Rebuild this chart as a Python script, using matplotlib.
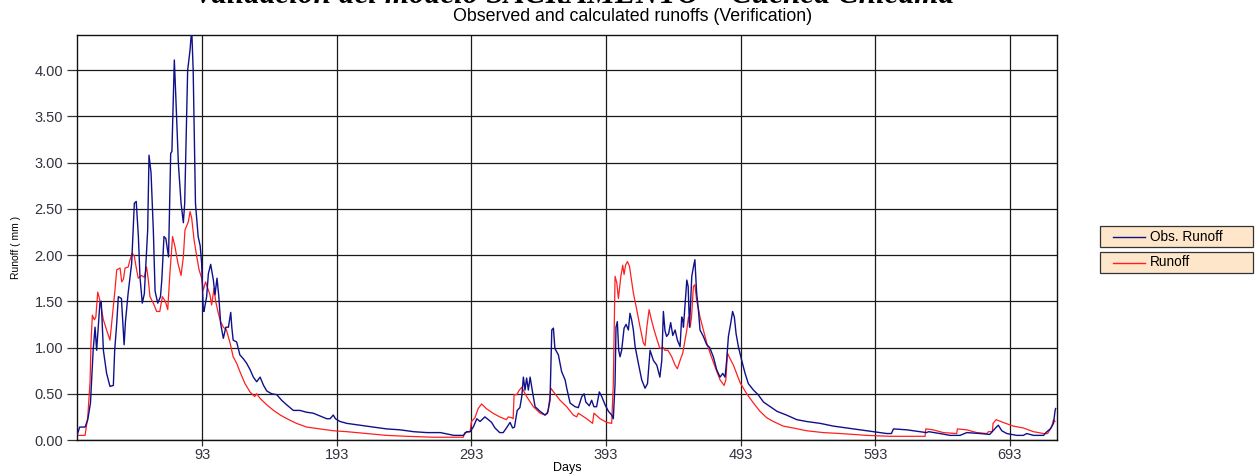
import matplotlib
matplotlib.use("Agg")
import matplotlib.pyplot as plt
from matplotlib.lines import Line2D
from matplotlib.patches import Rectangle
from matplotlib.ticker import FormatStrFormatter

# observed runoff (day, mm)
obs_day = [0, 2, 6, 8, 10, 12, 13.4, 14.6, 17, 18, 19.6, 22, 24.5, 27, 28, 29.5, 30.7, 33, 35, 36,
           38, 40.6, 42.6, 44, 45.6, 46.8, 48.5, 50, 52.5, 53.5, 55, 56.7, 58, 60, 62, 63, 64.6, 66, 68, 69.6,
           70.5, 72.3, 73.3, 75.3, 77.3, 79, 80, 82.2, 84, 85.2, 86.3, 88, 90, 91.5, 92.6, 93.8, 94.3, 96.3, 97.6, 99.3,
           101.3, 102.5, 104, 105.3, 106.7, 108.7, 110.6, 112.5, 114.2, 115, 116, 118.6, 121, 123.5, 126, 128.6, 131, 133.5, 136, 138.6,
           141, 144.6, 148.4, 152, 155.8, 160.7, 165.6, 170.6, 175.5, 180.5, 185.5, 188, 190.4, 192, 195.4, 200.4, 210, 220, 230, 240,
           250, 260, 270, 280, 287, 289.5, 292, 293, 294.4, 297, 299.4, 303, 305.6, 308, 310.5, 314, 316.6, 319, 321.7, 323.6,
           325, 327, 329, 330.4, 331.6, 332.8, 334, 335.3, 336.6, 338.5, 340.3, 344, 347.7, 349.5, 351.4, 352.7, 353.9, 355, 357.6, 360,
           362.6, 363.8, 366.3, 370, 372.4, 375, 376.7, 378, 380.6, 382.3, 384, 386, 388, 389.8, 392.3, 394.8, 397.2, 398.4, 399.7, 400.4,
           401.4, 402.4, 403.4, 404.6, 406.4, 407.9, 409.6, 410.8, 412, 413.3, 414.6, 417, 419.5, 422, 423.8, 425.7, 428.2, 430.7, 433, 434.4,
           435.6, 436.8, 438, 439.5, 441, 442.6, 444.3, 446, 448, 449.2, 450, 450.5, 453, 454, 455, 456.7, 457.9, 459, 460.3, 461.6,
           462.8, 465.3, 467.8, 470, 472.7, 475.2, 477.7, 479.7, 481.4, 482.6, 483.9, 485.6, 487, 488.3, 489.6, 491.3, 493.8, 496.3, 498.7, 502.5,
           506, 510, 515, 520, 527, 534.7, 542, 552, 562, 572, 582, 591.6, 601.5, 605, 606.5, 616.4, 626.3, 631, 632.7, 641,
           648.6, 656, 661, 671, 678, 683, 684.4, 687, 690.7, 698, 703, 705.5, 710.5, 718, 720.5, 723, 725.4, 726.6, 727]
obs_runoff = [0.05, 0.14, 0.14, 0.22, 0.40, 0.97, 1.22, 0.97, 1.48, 1.50, 0.97, 0.72, 0.58, 0.59, 0.97, 1.26, 1.55, 1.53, 1.03, 1.28,
              1.59, 1.91, 2.56, 2.58, 2.20, 1.76, 1.48, 1.58, 2.27, 3.08, 2.89, 2.27, 1.61, 1.48, 1.55, 1.73, 2.20, 2.18, 1.98, 3.10,
              3.12, 4.11, 3.75, 2.99, 2.56, 2.35, 2.56, 4.00, 4.22, 4.45, 4.00, 2.56, 2.20, 2.10, 1.91, 1.41, 1.39, 1.55, 1.80, 1.90,
              1.73, 1.57, 1.75, 1.56, 1.26, 1.10, 1.22, 1.22, 1.38, 1.22, 1.08, 1.06, 0.92, 0.88, 0.83, 0.76, 0.68, 0.63, 0.68, 0.59,
              0.53, 0.50, 0.49, 0.43, 0.38, 0.32, 0.32, 0.30, 0.29, 0.26, 0.23, 0.23, 0.27, 0.23, 0.20, 0.18, 0.16, 0.14, 0.12, 0.11,
              0.09, 0.08, 0.08, 0.05, 0.05, 0.09, 0.09, 0.11, 0.14, 0.23, 0.20, 0.25, 0.22, 0.19, 0.13, 0.08, 0.08, 0.13, 0.19, 0.13,
              0.14, 0.32, 0.35, 0.47, 0.68, 0.54, 0.67, 0.54, 0.68, 0.51, 0.36, 0.31, 0.27, 0.29, 0.43, 1.19, 1.21, 0.99, 0.92, 0.74,
              0.65, 0.56, 0.40, 0.36, 0.35, 0.47, 0.50, 0.41, 0.37, 0.43, 0.36, 0.36, 0.52, 0.47, 0.38, 0.31, 0.27, 0.23, 0.61, 1.22,
              1.28, 0.97, 0.90, 0.97, 1.21, 1.25, 1.19, 1.37, 1.30, 1.19, 1.01, 0.83, 0.65, 0.56, 0.61, 0.97, 0.86, 0.81, 0.68, 0.86,
              1.39, 1.18, 1.12, 1.15, 1.27, 1.13, 1.19, 1.08, 1.01, 1.33, 1.30, 1.22, 1.73, 1.66, 1.22, 1.77, 1.87, 1.95, 1.59, 1.41,
              1.19, 1.12, 1.03, 1.00, 0.90, 0.76, 0.68, 0.72, 0.68, 0.86, 1.12, 1.26, 1.39, 1.33, 1.15, 1.01, 0.86, 0.72, 0.61, 0.54,
              0.49, 0.41, 0.36, 0.31, 0.27, 0.22, 0.20, 0.18, 0.15, 0.13, 0.11, 0.09, 0.07, 0.07, 0.12, 0.11, 0.09, 0.08, 0.09, 0.07,
              0.05, 0.05, 0.08, 0.07, 0.06, 0.14, 0.16, 0.10, 0.07, 0.05, 0.05, 0.07, 0.05, 0.05, 0.09, 0.12, 0.18, 0.32, 0.34]

# calculated runoff (day, mm)
sim_day = [0, 6, 8, 9.7, 10.4, 11.4, 12.9, 14, 15.4, 17, 19.6, 22, 24.5, 26.2, 28.2, 29.5, 32, 33.2, 34.5, 35.7,
           38, 39.4, 41, 42.5, 44.3, 45.5, 48, 50, 51.7, 53, 54.2, 56.7, 59.2, 61.5, 63.4, 65.6, 67.4, 69, 71, 72.8,
           75, 77.3, 79, 80.2, 82.7, 84, 85.2, 87, 89, 90.7, 92.6, 93.8, 95.5, 96.7, 98.8, 100, 101.8, 103, 105, 106.7,
           108.7, 111, 113.7, 116, 118.6, 121, 124.8, 128.5, 132, 133.5, 136, 141, 146, 151, 156, 163, 170.6, 180.5, 190.4, 200.4,
           215, 230, 245, 264.7, 287, 288, 292, 293, 295.6, 298, 300.6, 304, 309, 314, 319, 320.4, 323, 324, 324.7, 326.6,
           328.6, 330.4, 334, 339, 344, 347.7, 350, 352, 353.5, 358.8, 363.8, 368.7, 371.2, 372.4, 378.6, 383, 384, 388.6, 393.5, 397.2,
           398.4, 399.7, 401, 402.2, 404, 405.4, 406.4, 407.5, 408.9, 410.4, 413.3, 415.8, 418.3, 420.7, 422, 423.3, 425, 426.7, 428.7, 431,
           433, 435.6, 436.8, 439, 441.8, 444.3, 446, 448, 450, 451.7, 453, 454.2, 455.5, 456.5, 457.9, 459, 460.3, 462.8, 465.3, 467.8,
           470.3, 474, 477.7, 480.7, 482, 483.2, 485.1, 487.6, 492.6, 497.5, 502.5, 507.4, 512.4, 517.3, 524.7, 532, 542, 554.5, 567, 586.7,
           604, 630, 630.5, 636, 643.6, 653.5, 654, 661, 668.4, 676, 677, 680, 680.5, 682.8, 688, 695.6, 703, 710.5, 718, 721,
           724, 725.4, 726.5]
sim_runoff = [0.05, 0.05, 0.25, 0.63, 1.05, 1.35, 1.30, 1.33, 1.60, 1.51, 1.30, 1.19, 1.08, 1.33, 1.62, 1.84, 1.86, 1.71, 1.74, 1.86,
              1.87, 1.95, 2.02, 1.99, 1.84, 1.75, 1.78, 1.76, 1.87, 1.73, 1.55, 1.48, 1.39, 1.39, 1.55, 1.50, 1.41, 1.80, 2.20, 2.09,
              1.91, 1.78, 1.98, 2.27, 2.36, 2.47, 2.40, 2.16, 1.98, 1.84, 1.75, 1.62, 1.71, 1.66, 1.57, 1.46, 1.64, 1.50, 1.37, 1.28,
              1.22, 1.19, 1.05, 0.90, 0.83, 0.74, 0.61, 0.52, 0.47, 0.50, 0.45, 0.38, 0.32, 0.27, 0.23, 0.18, 0.14, 0.12, 0.10, 0.09,
              0.07, 0.05, 0.04, 0.03, 0.03, 0.08, 0.09, 0.20, 0.24, 0.34, 0.39, 0.34, 0.29, 0.25, 0.22, 0.25, 0.24, 0.23, 0.49, 0.49,
              0.54, 0.57, 0.47, 0.36, 0.29, 0.27, 0.31, 0.56, 0.53, 0.43, 0.36, 0.27, 0.25, 0.29, 0.23, 0.18, 0.29, 0.23, 0.19, 0.18,
              0.61, 1.77, 1.70, 1.53, 1.77, 1.89, 1.79, 1.89, 1.93, 1.88, 1.59, 1.41, 1.22, 1.05, 1.02, 1.22, 1.41, 1.30, 1.19, 1.08,
              0.99, 1.00, 0.97, 0.97, 0.90, 0.81, 0.77, 0.86, 0.94, 1.08, 1.19, 1.33, 1.22, 1.33, 1.66, 1.68, 1.51, 1.33, 1.19, 1.05,
              0.94, 0.79, 0.65, 0.59, 0.65, 0.94, 0.88, 0.81, 0.62, 0.50, 0.40, 0.31, 0.24, 0.20, 0.15, 0.13, 0.10, 0.08, 0.07, 0.05,
              0.04, 0.04, 0.12, 0.11, 0.08, 0.07, 0.12, 0.11, 0.08, 0.07, 0.09, 0.09, 0.18, 0.22, 0.19, 0.15, 0.13, 0.09, 0.07, 0.07,
              0.14, 0.22, 0.20]

x_ticks = [93, 193, 293, 393, 493, 593, 693]
y_ticks = [0, 0.5, 1.0, 1.5, 2.0, 2.5, 3.0, 3.5, 4.0]
series_names = ["Obs. Runoff", "Runoff"]

blue = "#10108a"
red = "#ff1f1f"

W, H = 1256, 474
fig = plt.figure(figsize=(W / 100, H / 100), dpi=100)
ax = fig.add_axes([77 / W, 34 / H, 980 / W, 405 / H])

ax.plot(obs_day, obs_runoff, color=blue, lw=1.0, zorder=3)
ax.plot(sim_day, sim_runoff, color=red, lw=0.9, zorder=2)

ax.set_xlim(0, 728)
ax.set_ylim(0, 4.38)
ax.set_xticks(x_ticks)
ax.set_yticks(y_ticks)
ax.yaxis.set_major_formatter(FormatStrFormatter("%.2f"))
ax.grid(True, color="#1a1a1a", lw=0.9)
ax.set_axisbelow(True)
for s in ax.spines.values():
    s.set_color("#111111")
    s.set_linewidth(1.0)
ax.tick_params(axis="y", direction="out", length=7, width=0.9, color="#333333",
               labelsize=10.5, labelcolor="#333340", pad=3)
ax.tick_params(axis="x", direction="out", length=4, width=0.9, color="#333333",
               labelsize=10.5, labelcolor="#333340", pad=2)
for t in ax.get_xticklabels() + ax.get_yticklabels():
    t.set_family("Liberation Sans")

ax.set_xlabel("Days", fontsize=9, family="Liberation Sans", labelpad=0)
fig.text(16 / W, 1 - 247 / H, "Runoff ( mm )", rotation=90, ha="center", va="center",
         fontsize=7.5, family="Liberation Sans")

# titles, main one partly above the top edge
fig.text(0.457, 0.9945, "Validación del modelo SACRAMENTO – Cuenca Chicama",
         ha="center", va="baseline", fontsize=22.5, fontweight="bold", fontstyle="italic",
         family="Liberation Serif")
fig.text(633 / W, 1 - 21 / H, "Observed and calculated runoffs (Verification)", ha="center",
         va="baseline", fontsize=12.8, family="Liberation Sans")

# one framed box per series on the right
for i, (label, col) in enumerate(zip(series_names, [blue, red])):
    top = 226 + i * 26
    y0 = 1 - (top + 21) / H
    fig.add_artist(Rectangle((1100 / W, y0), 153 / W, 21 / H, transform=fig.transFigure,
                             facecolor="#fde6c9", edgecolor="#333333", lw=0.9))
    yc = 1 - (top + 10.5) / H
    fig.add_artist(Line2D([1113 / W, 1145 / W], [yc, yc], transform=fig.transFigure,
                          color=col, lw=1.0))
    fig.text(1150 / W, yc, label, ha="left", va="center", fontsize=9.8, family="Liberation Sans")

fig.savefig("out.png", dpi=100)
